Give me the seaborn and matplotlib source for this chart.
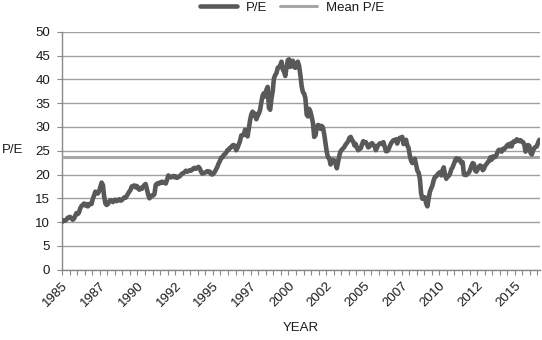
import numpy as np
import pandas as pd
import matplotlib
matplotlib.use("Agg")
import matplotlib.pyplot as plt
import seaborn as sns
from matplotlib.lines import Line2D

# Monthly P/E values, Jan 1985 .. Aug 2016
pe_1985 = [10.1, 10.4, 10.3, 10.5, 10.9, 11.0, 11.1, 10.8, 10.5, 10.7, 11.3, 11.9]
pe_1986 = [11.7, 12.0, 12.9, 13.4, 13.6, 13.9, 13.5, 13.8, 13.3, 13.6, 13.9, 13.8]
pe_1987 = [14.9, 15.6, 16.4, 16.2, 16.0, 16.5, 17.4, 18.3, 17.8, 15.4, 13.9, 13.6]
pe_1988 = [13.8, 14.3, 14.6, 14.5, 14.2, 14.6, 14.7, 14.4, 14.6, 14.8, 14.5, 14.6]
pe_1989 = [14.9, 15.2, 15.1, 15.5, 16.0, 16.4, 16.8, 17.5, 17.6, 17.7, 17.3, 17.6]
pe_1990 = [17.1, 16.8, 17.2, 17.0, 17.4, 17.8, 18.0, 16.9, 15.8, 15.0, 15.3, 15.6]
pe_1991 = [15.6, 15.9, 17.8, 18.1, 18.0, 18.3, 18.2, 18.5, 18.3, 18.4, 18.1, 18.9]
pe_1992 = [19.8, 19.6, 19.4, 19.5, 19.7, 19.4, 19.6, 19.3, 19.5, 19.6, 19.9, 20.2]
pe_1993 = [20.3, 20.5, 20.8, 20.6, 20.7, 20.9, 20.8, 21.0, 21.3, 21.4, 21.2, 21.4]
pe_1994 = [21.6, 21.3, 20.6, 20.2, 20.3, 20.4, 20.5, 20.7, 20.5, 20.6, 20.1, 20.0]
pe_1995 = [20.2, 20.6, 21.1, 21.6, 22.3, 22.8, 23.5, 23.6, 24.1, 24.3, 24.6, 25.1]
pe_1996 = [25.2, 25.6, 25.7, 26.1, 26.2, 26.0, 25.1, 25.6, 26.3, 27.0, 28.2, 28.3]
pe_1997 = [28.3, 29.4, 28.9, 28.0, 29.6, 31.4, 32.6, 33.2, 32.4, 32.8, 31.6, 32.3]
pe_1998 = [32.8, 33.6, 35.2, 36.6, 37.1, 36.4, 37.8, 38.4, 34.0, 33.6, 35.9, 37.5]
pe_1999 = [40.2, 40.9, 41.3, 42.4, 42.6, 42.9, 43.7, 42.1, 41.6, 40.7, 42.5, 44.0]
pe_2000 = [44.2, 42.6, 43.2, 43.9, 42.6, 42.4, 43.3, 43.7, 42.8, 40.9, 38.6, 37.3]
pe_2001 = [37.0, 36.0, 32.6, 32.2, 33.8, 33.2, 32.1, 30.8, 27.9, 28.2, 29.8, 30.4]
pe_2002 = [30.3, 29.6, 30.2, 29.8, 28.4, 26.6, 24.7, 23.6, 23.4, 22.1, 22.9, 23.1]
pe_2003 = [22.9, 22.2, 21.3, 22.6, 24.0, 24.9, 25.2, 25.5, 25.8, 26.3, 26.6, 27.0]
pe_2004 = [27.7, 27.9, 27.3, 26.9, 26.1, 26.4, 25.6, 25.1, 25.4, 25.5, 26.3, 27.0]
pe_2005 = [26.7, 26.8, 26.3, 25.7, 25.9, 26.4, 26.6, 26.2, 26.0, 25.1, 25.7, 26.2]
pe_2006 = [26.5, 26.6, 26.4, 26.8, 25.9, 24.9, 24.9, 25.2, 25.9, 26.5, 26.9, 27.2]
pe_2007 = [27.2, 27.4, 26.5, 27.3, 27.7, 27.6, 27.9, 26.4, 26.9, 27.3, 26.1, 25.6]
pe_2008 = [24.0, 22.9, 22.4, 22.9, 23.3, 22.1, 20.8, 20.4, 19.1, 16.0, 14.9, 15.2]
pe_2009 = [15.2, 13.9, 13.3, 15.0, 16.4, 17.1, 17.7, 18.8, 19.5, 19.6, 20.0, 20.3]
pe_2010 = [20.5, 19.8, 20.9, 21.5, 19.9, 19.1, 19.6, 19.7, 20.2, 21.1, 21.5, 22.2]
pe_2011 = [22.9, 23.4, 23.0, 23.3, 23.0, 22.4, 22.6, 20.0, 19.9, 19.9, 20.2, 20.4]
pe_2012 = [21.0, 21.8, 22.4, 22.2, 20.8, 20.6, 21.1, 21.7, 21.9, 21.7, 20.9, 21.2]
pe_2013 = [21.9, 22.2, 22.6, 22.8, 23.6, 23.1, 23.8, 23.6, 23.7, 24.2, 24.9, 25.2]
pe_2014 = [25.1, 24.8, 25.4, 25.3, 25.6, 26.0, 26.3, 25.9, 26.5, 25.9, 26.8, 27.0]
pe_2015 = [26.9, 27.4, 27.2, 27.0, 27.2, 26.9, 26.8, 26.3, 24.8, 25.4, 26.2, 26.0]
pe_2016 = [24.5, 24.2, 25.0, 25.6, 25.8, 25.9, 26.7, 27.3]

mean_pe = 23.7

tick_years = ["1985", "1987", "1990", "1992", "1995", "1997", "2000",
              "2002", "2005", "2007", "2010", "2012", "2015"]
y_ticks = [0, 5, 10, 15, 20, 25, 30, 35, 40, 45, 50]

pe_values = (pe_1985 + pe_1986 + pe_1987 + pe_1988 + pe_1989 + pe_1990 + pe_1991
             + pe_1992 + pe_1993 + pe_1994 + pe_1995 + pe_1996 + pe_1997 + pe_1998
             + pe_1999 + pe_2000 + pe_2001 + pe_2002 + pe_2003 + pe_2004 + pe_2005
             + pe_2006 + pe_2007 + pe_2008 + pe_2009 + pe_2010 + pe_2011 + pe_2012
             + pe_2013 + pe_2014 + pe_2015 + pe_2016)
n = len(pe_values)
month_idx = np.arange(n)

df = pd.DataFrame({
    "month": np.concatenate([month_idx, month_idx]),
    "value": pe_values + [mean_pe] * n,
    "series": ["P/E"] * n + ["Mean P/E"] * n,
})

sns.set_theme(style="white")
plt.rcParams["font.family"] = ["Liberation Sans", "DejaVu Sans"]
FS = 9.5
TXT = "#1a1a1a"

fig = plt.figure(figsize=(5.42, 3.4), dpi=100)
ax = fig.add_axes([62 / 542, 1 - 269.7 / 340, (540 - 62) / 542, (269.7 - 31.7) / 340])

sns.lineplot(data=df, x="month", y="value", hue="series",
             palette={"P/E": "#595959", "Mean P/E": "#A6A6A6"},
             hue_order=["Mean P/E", "P/E"], ax=ax, legend=False,
             estimator=None, sort=False)
for ln in ax.get_lines():
    if np.allclose(ln.get_ydata(), mean_pe):
        ln.set_linewidth(2.2)
        ln.set_zorder(3)
    else:
        ln.set_linewidth(3.3)
        ln.set_zorder(4)
        ln.set_solid_joinstyle("round")

ax.set_xlim(-0.5, n - 0.5)
ax.set_ylim(0, 50)
ax.set_yticks(y_ticks)
ax.set_yticklabels([str(v) for v in y_ticks], fontsize=FS, color=TXT)
major = [-0.5 + 30 * i for i in range(len(tick_years))]
ax.set_xticks(major)
ax.set_xticklabels(tick_years, rotation=45, ha="right", va="top",
                   rotation_mode="anchor", fontsize=FS, color=TXT)
ax.set_xticks([-0.5 + 6 * i for i in range(int(n / 6) + 1)], minor=True)

ax.grid(axis="y", color="#A0A0A0", linewidth=1.0)
ax.set_axisbelow(True)
for side in ["top", "right"]:
    ax.spines[side].set_visible(False)
for side in ["left", "bottom"]:
    ax.spines[side].set_color("#888888")
    ax.spines[side].set_linewidth(1.0)
ax.tick_params(axis="y", which="major", left=True, length=3.5, width=0.8,
               color="#888888", pad=5)
ax.tick_params(axis="x", which="both", bottom=True, length=3.5, width=0.8,
               color="#888888", pad=4)
ax.set_xlabel("")
ax.set_ylabel("")

fig.text(301 / 542, 1 - 328 / 340, "YEAR", ha="center", va="center",
         fontsize=FS, color=TXT)
fig.text(2 / 542, 1 - 150 / 340, "P/E", ha="left", va="center",
         fontsize=FS, color=TXT)

handles = [Line2D([], [], color="#595959", linewidth=3.3),
           Line2D([], [], color="#A6A6A6", linewidth=2.2)]
fig.legend(handles, ["P/E", "Mean P/E"], loc="center",
           bbox_to_anchor=(292 / 542, 1 - 8 / 340), ncol=2, frameon=False,
           fontsize=FS, handlelength=2.8, handletextpad=0.7, columnspacing=0.9,
           labelcolor=TXT)

fig.savefig("out.png", dpi=100)
